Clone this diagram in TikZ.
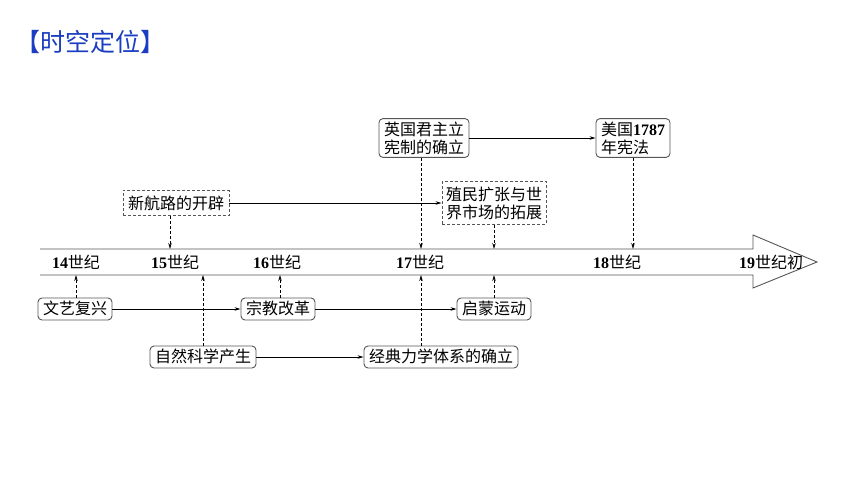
\documentclass[tikz,border=0pt]{standalone}
\usepackage{fontspec}
\setmainfont{Liberation Serif}
\newfontfamily\cjk{Noto Sans CJK SC}
\usetikzlibrary{arrows.meta}
\definecolor{titleblue}{HTML}{1A3DC1}
\definecolor{boxgray}{HTML}{555555}
\tikzset{
  x=1pt,y=-1pt,
  solidbox/.style={draw=boxgray,line width=0.9pt,rounded corners=4pt,inner xsep=5pt,inner ysep=3pt,font=\fontsize{16}{18}\selectfont\cjk,text height=13pt,text depth=3pt},
  dashbox/.style={draw=boxgray,line width=0.9pt,dash pattern=on 3pt off 2pt,inner xsep=5pt,inner ysep=5pt,font=\fontsize{16}{18}\selectfont\cjk,align=left},
  twoline/.style={draw=boxgray,line width=0.9pt,rounded corners=4pt,font=\fontsize{16}{18}\selectfont\cjk,align=left,inner xsep=5pt,inner ysep=3pt},
  cent/.style={font=\fontsize{16}{18}\selectfont,inner sep=0pt},
  arr/.style={line width=0.8pt,-{Stealth[length=6pt,width=3.5pt]}},
  darr/.style={line width=0.8pt,dash pattern=on 3pt off 2pt,-{Stealth[length=6pt,width=3.5pt]}},
}
\begin{document}
\begin{tikzpicture}
\useasboundingbox (0,0) rectangle (860,484);
% title
\node[anchor=west,text=titleblue,font=\fontsize{25}{27}\selectfont\cjk,inner sep=0pt] (title) at (15,42) {【时空定位】};
% big arrow
\draw[line width=0.9pt,draw=boxgray] (40,249) -- (753,249) -- (753,235) -- (817,262) -- (753,288) -- (753,275) -- (40,275);
% century labels
\node[cent] (c14) at (76,262) {\textbf{14}{\cjk 世纪}};
\node[cent] (c15) at (175,262) {\textbf{15}{\cjk 世纪}};
\node[cent] (c16) at (277,262) {\textbf{16}{\cjk 世纪}};
\node[cent] (c17) at (420,262) {\textbf{17}{\cjk 世纪}};
\node[cent] (c18) at (617,262) {\textbf{18}{\cjk 世纪}};
\node[cent] (c19) at (771,262) {\textbf{19}{\cjk 世纪初}};
% axis anchor points
\coordinate (t15) at (170,249);
\coordinate (t17) at (421,249);
\coordinate (t18) at (633,249);
\coordinate (tcol) at (494,249);
\coordinate (b14) at (76,275);
\coordinate (b15) at (203,275);
\coordinate (b16) at (280,275);
\coordinate (b17) at (421,275);
\coordinate (bqm) at (494,275);
% top boxes
\node[twoline] (uk) at (424,138) {英国君主立\\宪制的确立};
\node[twoline] (us) at (633,138) {美国{\rmfamily\bfseries 1787}\\年宪法};
\node[dashbox] (xhl) at (176,203) {新航路的开辟};
\node[dashbox,inner xsep=4pt] (zm) at (494,203) {殖民扩张与世\\界市场的拓展};
% bottom boxes
\node[solidbox] (wy) at (75,309) {文艺复兴};
\node[solidbox] (zj) at (278,309) {宗教改革};
\node[solidbox] (qm) at (494,309) {启蒙运动};
\node[solidbox] (zr) at (203,357) {自然科学产生};
\node[solidbox] (jd) at (441,357) {经典力学体系的确立};
% connectors
\draw[arr] (uk.east) -- (us.west |- uk.east);
\draw[arr] (xhl.east) -- (zm.west |- xhl.east);
\draw[darr] (xhl.south -| t15) -- (t15);
\draw[darr] (uk.south -| t17) -- (t17);
\draw[darr] (us.south -| t18) -- (t18);
\draw[darr] (zm.south -| tcol) -- (tcol);
\draw[arr] (wy.east) -- (zj.west);
\draw[arr] (zj.east) -- (qm.west);
\draw[arr] (zr.east) -- (jd.west |- zr.east);
\draw[darr] (wy.north -| b14) -- (b14);
\draw[darr] (zj.north -| b16) -- (b16);
\draw[darr] (qm.north -| bqm) -- (bqm);
\draw[darr] (zr.north -| b15) -- (b15);
\draw[darr] (jd.north -| b17) -- (b17);
\end{tikzpicture}
\end{document}
